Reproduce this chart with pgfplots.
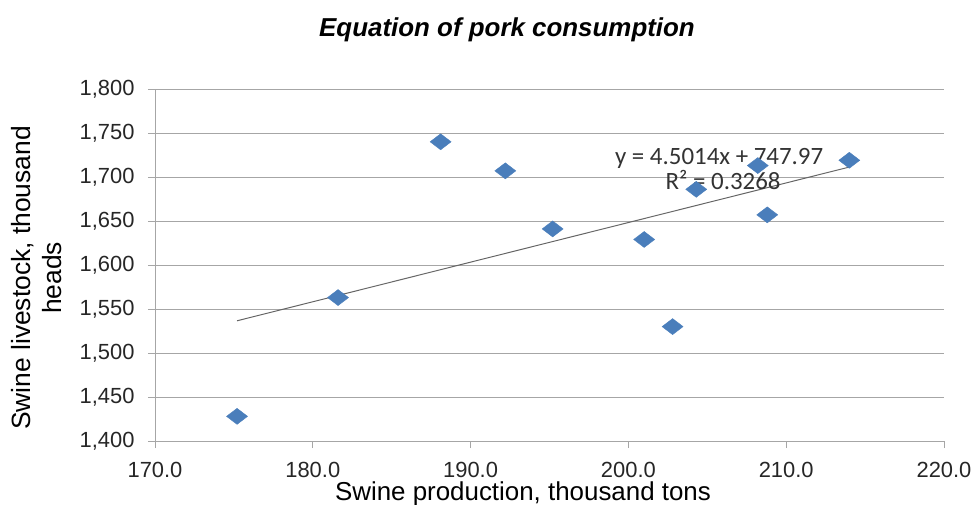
\documentclass[border=0pt]{standalone}
\usepackage{fontspec}
\setmainfont{Liberation Sans}
\newfontfamily\calib{Carlito}
\usepackage{pgfplots}
\pgfplotsset{compat=1.18}
\definecolor{mk}{HTML}{4A7EBB}
\definecolor{ax}{HTML}{A6A6A6}
\begin{document}
\begin{tikzpicture}
\begin{axis}[
  at={(0,0)}, anchor=origin,
  scale only axis,
  width=789bp, height=352bp,
  xmin=170, xmax=220, ymin=1400, ymax=1800,
  xtick={170,180,...,220}, ytick={1400,1450,...,1800},
  axis x line*=bottom, axis y line*=left,
  axis line style={ax, line width=1pt, -},
  ymajorgrids, grid style={ax, line width=1pt},
  tick style={ax, line width=1pt},
  tick align=outside, major tick length=7bp,
  x tick label style={/pgf/number format/fixed, /pgf/number format/fixed zerofill, /pgf/number format/precision=1, /pgf/number format/assume math mode=true, inner sep=0.5bp, yshift=-13bp},
  y tick label style={/pgf/number format/fixed, /pgf/number format/1000 sep={,}, /pgf/number format/assume math mode=true, xshift=-10bp},
  ticklabel style={font=\fontsize{22}{24}\selectfont, text=black!85},
  clip=false,
]
\addplot[only marks, mark=diamond*, mark size=8bp, mark options={xscale=1.75, fill=mk, draw=mk}] coordinates {
  (175.2,1428) (181.6,1563) (188.1,1740) (192.2,1707) (195.2,1641)
  (201.0,1629) (202.8,1530) (204.3,1686) (208.2,1713) (208.8,1657) (214.0,1719)
};
\addplot[black!60, line width=1pt] coordinates {(175.2,1536.6) (214.0,1711.3)};
\node[font=\calib\fontsize{25}{27}\selectfont, text=black!80] at (axis cs:205.75,1721.5) {y = 4.5014x + 747.97};
\node[font=\calib\fontsize{25}{27}\selectfont, text=black!80] at (axis cs:206.0,1697) {R² = 0.3268};
\end{axis}
\node[font=\fontsize{26}{28}\selectfont\bfseries\itshape] at (352bp,411bp) {Equation of pork consumption};
\node[font=\fontsize{26}{28}\selectfont, inner sep=0pt] at (368bp,-53bp) {Swine production, thousand tons};
\node[font=\fontsize{26.5}{31}\selectfont, rotate=90, align=center] at (-118bp,163bp) {Swine livestock, thousand\\heads};
\pgfresetboundingbox
\path[use as bounding box] (-155bp,-64bp) rectangle (822bp,441bp);
\end{tikzpicture}
\end{document}
